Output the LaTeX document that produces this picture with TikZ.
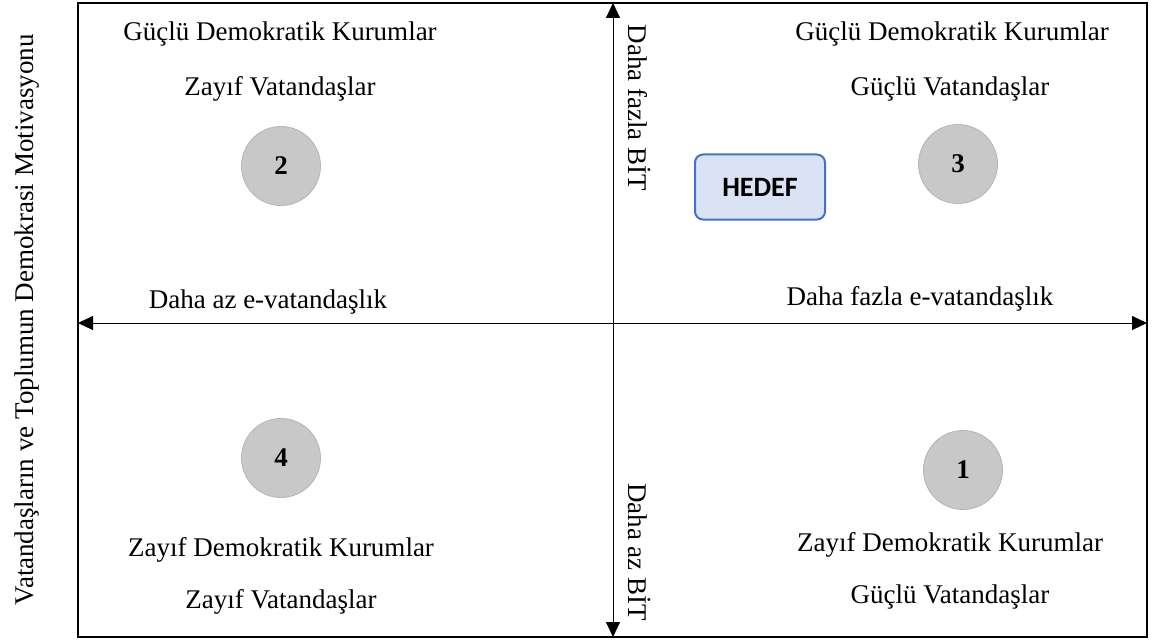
\documentclass[tikz,border=0pt]{standalone}
\usepackage{fontspec}
\setmainfont{Liberation Serif}
\newfontfamily\hedeffont{Carlito}
\definecolor{qdLine}{HTML}{000000}
\definecolor{qdBall}{HTML}{C8C8C8}
\definecolor{qdBallEdge}{HTML}{B4B4B4}
\definecolor{qdGoalFill}{HTML}{DAE3F3}
\definecolor{qdGoalEdge}{HTML}{4472C4}
\usetikzlibrary{arrows.meta}

\begin{document}
\begin{tikzpicture}[x=0.5pt, y=-0.5pt,
  lbl/.style={font=\fontsize{13.5}{16}\selectfont, inner sep=0pt},
  ball/.style={circle, fill=qdBall, draw=qdBallEdge, line width=0.4pt,
    minimum size=39.5pt, inner sep=0pt, font=\fontsize{13.5}{16}\selectfont\bfseries},
  goal/.style={rounded corners=4pt, fill=qdGoalFill, draw=qdGoalEdge, line width=1pt,
    minimum width=65pt, minimum height=32.5pt, font=\hedeffont\fontsize{14}{16}\selectfont\bfseries},
  axis/.style={{Triangle[length=7.5pt,width=7pt]}-{Triangle[length=7.5pt,width=7pt]}, line width=0.5pt, color=qdLine}
]
  \useasboundingbox (0,0) rectangle (1152,642);
  % frame and axes
  \draw[line width=1pt] (78,3) rectangle (1147,637);
  \coordinate (top) at (613,3);
  \coordinate (bottom) at (613,637);
  \coordinate (left) at (78,323);
  \coordinate (right) at (1147,323);
  \draw[axis] (bottom) -- (top);
  \draw[axis] (left) -- (right);

  \node[lbl, rotate=90] (ylabel) at (27,320) {Vatandaşların ve Toplumun Demokrasi Motivasyonu};
  \node[lbl, rotate=-90] (more) at (640,108) {Daha fazla BİT};
  \node[lbl, rotate=-90] (less) at (640,552) {Daha az BİT};
  \node[lbl] (eless) at (268,302) {Daha az e-vatandaşlık};
  \node[lbl] (emore) at (920,299) {Daha fazla e-vatandaşlık};

  % quadrants
  \node[lbl] (q2a) at (280,34) {Güçlü Demokratik Kurumlar};
  \node[lbl] (q2b) at (280,89) {Zayıf Vatandaşlar};
  \node[ball] (c2) at (281,166) {2};

  \node[lbl] (q3a) at (952,34) {Güçlü Demokratik Kurumlar};
  \node[lbl] (q3b) at (950,89) {Güçlü Vatandaşlar};
  \node[ball] (c3) at (958,164) {3};
  \node[goal] (hedef) at (760,187) {HEDEF};

  \node[ball] (c4) at (281,458) {4};
  \node[lbl] (q4a) at (281,550) {Zayıf Demokratik Kurumlar};
  \node[lbl] (q4b) at (281,602) {Zayıf Vatandaşlar};

  \node[ball] (c1) at (963,470) {1};
  \node[lbl] (q1a) at (950,545) {Zayıf Demokratik Kurumlar};
  \node[lbl] (q1b) at (950,597) {Güçlü Vatandaşlar};
\end{tikzpicture}
\end{document}
